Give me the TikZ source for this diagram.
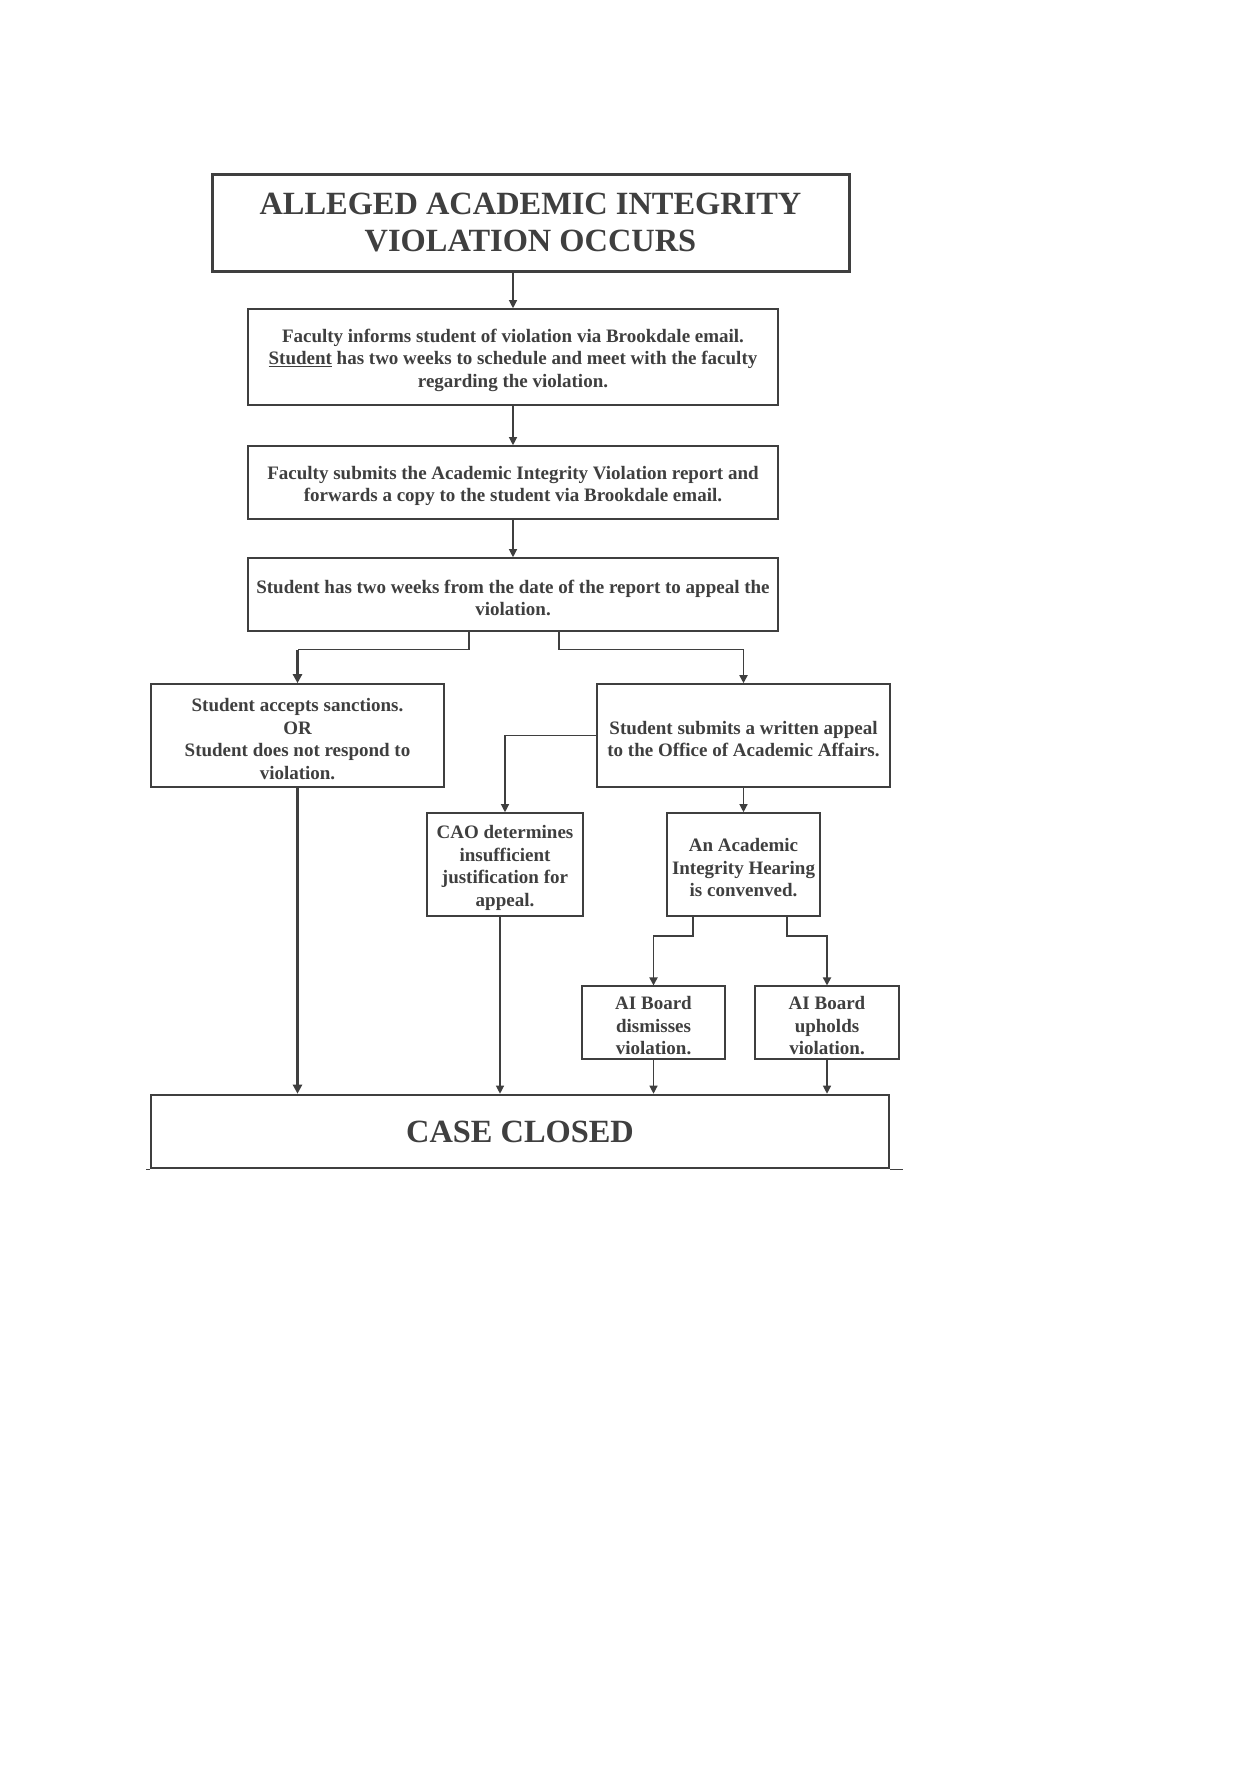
\documentclass[tikz,border=0pt]{standalone}
\usepackage{fontspec}
\setmainfont{Liberation Serif}
\usetikzlibrary{arrows.meta,calc}
\definecolor{ink}{HTML}{3F3F3F}
\newcommand\ts{\rule{0pt}{20pt}}
\begin{document}
\begin{tikzpicture}[x=1pt,y=-1pt,
  basebox/.style={draw=ink,text=ink,line width=1.6pt,rectangle,align=center,inner sep=2pt},
  box/.style={basebox,font=\bfseries\fontsize{19}{22.5}\selectfont},
  thinbox/.style={box,line width=1.1pt},
  bigbox/.style={basebox,line width=3pt,font=\bfseries\fontsize{32.4}{37}\selectfont},
  arr/.style={draw=ink,line width=1.2pt,-{Triangle[width=8pt,length=8pt]}},
  thickarr/.style={draw=ink,line width=2.4pt,-{Triangle[width=9pt,length=9pt]}},
  midarr/.style={draw=ink,line width=1.8pt,-{Triangle[width=8pt,length=8pt]}},
  plain/.style={draw=ink,line width=1.2pt}
]
\useasboundingbox[fill=white] (0,0) rectangle (1241,1771);

\node[bigbox,minimum width=637pt,minimum height=96pt] (top) at (530.5,223)
  {ALLEGED ACADEMIC INTEGRITY\\VIOLATION OCCURS};
\node[box,minimum width=530pt,minimum height=96pt] (b2) at (513,357)
  {\ts Faculty informs student of violation via Brookdale email.\\\underline{Student} has two weeks to schedule and meet with the faculty\\regarding the violation.};
\node[box,minimum width=530pt,minimum height=73pt] (b3) at (513,482.5)
  {\ts Faculty submits the Academic Integrity Violation report and\\forwards a copy to the student via Brookdale email.};
\node[box,minimum width=530pt,minimum height=73pt] (b4) at (513,594.5)
  {\ts Student has two weeks from the date of the report to appeal the\\violation.};
\node[box,minimum width=293pt,minimum height=103pt] (accept) at (297.5,735.5)
  {\ts Student accepts sanctions.\\OR\\Student does not respond to\\violation.};
\node[box,minimum width=293pt,minimum height=103pt] (appeal) at (743.5,735.5)
  {\ts Student submits a written appeal\\to the Office of Academic Affairs.};
\node[box,minimum width=156pt,minimum height=103pt] (cao) at (505,864.5)
  {\ts CAO determines\\insufficient\\justification for\\appeal.};
\node[box,minimum width=153pt,minimum height=103pt] (hearing) at (743.5,864.5)
  {\ts An Academic\\Integrity Hearing\\is convenved.};
\node[thinbox,minimum width=143pt,minimum height=73pt] (dismiss) at (653.5,1022.5)
  {\ts AI Board\\dismisses\\violation.};
\node[thinbox,minimum width=144pt,minimum height=73pt] (uphold) at (827,1022.5)
  {\ts AI Board\\upholds\\violation.};
\node[bigbox,line width=2.6pt,minimum width=738pt,minimum height=73pt] (closed) at (520,1131.5)
  {CASE CLOSED};
\coordinate (ext) at ($(closed.south east)+(13,0)$);
\draw[ink,line width=1.4pt] (closed.south east) -- (ext);
\draw[ink,line width=1.4pt] (closed.south west) -- ++(-4,0);

\draw[arr] (top.south -| b2.north) -- (b2.north);
\draw[arr] (b2.south) -- (b3.north);
\draw[arr] (b3.south) -- (b4.north);
\coordinate (cl) at ($(b4.south)+(0,18)$);
\coordinate (kl) at (cl -| accept.north);
\coordinate (kr) at (cl -| appeal.north);
\draw[plain] ([xshift=-44pt]b4.south) -- ([xshift=-44pt]cl) -- (kl);
\draw[thickarr] ([yshift=-0.6pt]kl) -- (accept.north);
\draw[plain] ([xshift=46pt]b4.south) -- ([xshift=46pt]cl) -- (kr);
\draw[midarr] ([yshift=-0.6pt]kr) -- (appeal.north);
\draw[arr] (appeal.west) -| (cao.north);
\draw[arr] (appeal.south) -- (hearing.north);
\draw[midarr] ([xshift=-50.5pt]hearing.south) -- ++(0,19) -| (dismiss.north);
\draw[midarr] ([xshift=43.5pt]hearing.south) -- ++(0,19) -| (uphold.north);
\draw[thickarr] (accept.south) -- (accept.south |- closed.north);
\draw[arr] ([xshift=-5pt]cao.south) -- ([xshift=-5pt]cao.south |- closed.north);
\draw[arr] (dismiss.south) -- (dismiss.south |- closed.north);
\draw[arr] (uphold.south) -- (uphold.south |- closed.north);
\end{tikzpicture}
\end{document}
